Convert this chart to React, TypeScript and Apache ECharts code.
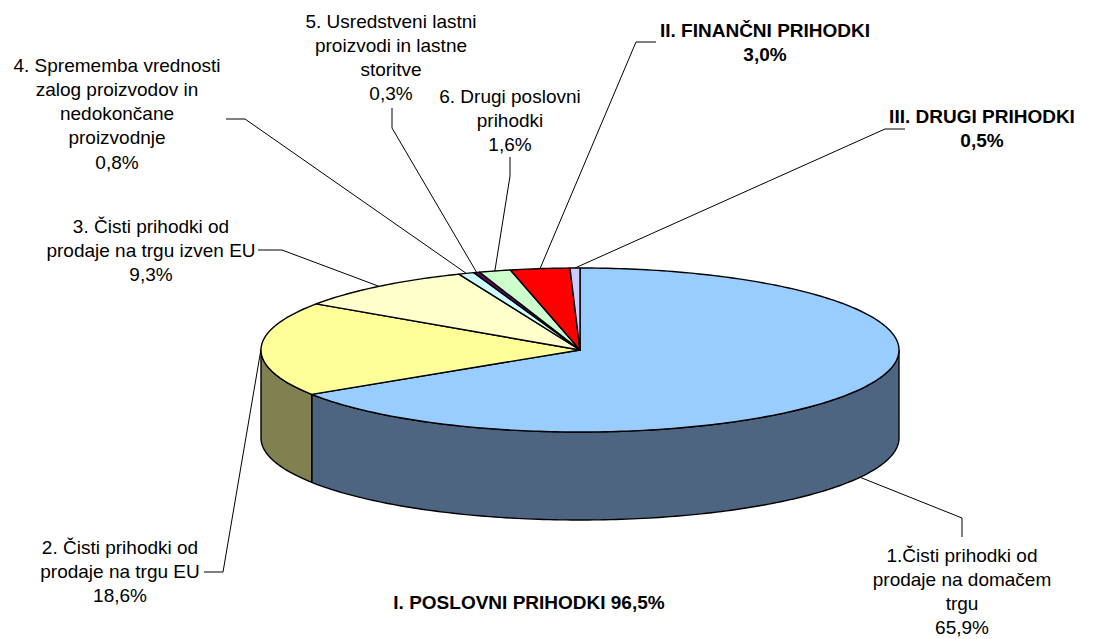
import { useEffect, useRef } from 'react';
import * as echarts from 'echarts';

// ---- data ----
const categories = [
  '1.Čisti prihodki od\nprodaje na domačem\ntrgu',
  '2. Čisti prihodki od\nprodaje na trgu EU',
  '3. Čisti prihodki od\nprodaje na trgu izven EU',
  '4. Sprememba vrednosti\nzalog proizvodov in\nnedokončane\nproizvodnje',
  '5. Usredstveni lastni\nproizvodi in lastne\nstoritve',
  '6. Drugi poslovni\nprihodki',
  'II. FINANČNI PRIHODKI',
  'III. DRUGI PRIHODKI',
];
const values = [65.9, 18.6, 9.3, 0.8, 0.3, 1.6, 3.0, 0.5];
const boldLabel = [false, false, false, false, false, false, true, true];
const groupTitle = 'I. POSLOVNI PRIHODKI';
const groupCount = 6; // first six slices belong to group I

// ---- styles / layout ----
const topColors = ['#99CCFF', '#FFFF99', '#FFFFCC', '#CCFFFF', '#660066', '#CCFFCC', '#FF0000', '#CCCCFF'];
const sideColors = ['#4D6580', '#808050', '#808066', '#668080', '#330033', '#668066', '#800000', '#666680'];
const CX = 580, CY = 350, RX = 319, RY = 82, DEPTH = 88;
const FONT_FAMILY = '"Liberation Sans", Arial, sans-serif';
const FONT_SIZE = 19;
const LINE_H = 24.3;
// label first-line centre and leader elbow points (label side first)
const labelLayout = [
  { x: 962, y: 555, leader: [[962, 537], [962, 518]] },
  { x: 120, y: 547, leader: [[204, 572], [223, 572]] },
  { x: 151, y: 226, leader: [[258, 250], [282, 250]] },
  { x: 117, y: 65, leader: [[226, 119], [245, 119]] },
  { x: 391, y: 21, leader: [[392, 108], [392, 128]] },
  { x: 510, y: 96, leader: [[510, 157], [510, 176]] },
  { x: 765, y: 30, leader: [[656, 42], [636, 42]] },
  { x: 982, y: 116, leader: [[905, 129], [885, 129]] },
];
const totalLabelPos = { x: 529, y: 602 };

const fmt = (v: number) => v.toFixed(1).replace('.', ',') + '%';
const total = values.reduce((a, b) => a + b, 0);
const starts: number[] = [];
values.reduce((acc, v, i) => { starts[i] = acc; return acc + v; }, 0);

const rad = (a: number) => (a * Math.PI) / 180;
const ellPt = (a: number, dy = 0) => [CX + RX * Math.cos(rad(a)), CY - RY * Math.sin(rad(a)) + dy];
const arcPts = (from: number, to: number, dy: number) => {
  const n = Math.max(2, Math.ceil(Math.abs(from - to)));
  const pts: number[][] = [];
  for (let i = 0; i <= n; i++) pts.push(ellPt(from + ((to - from) * i) / n, dy));
  return pts;
};

export default function App() {
  const ref = useRef<HTMLDivElement>(null);
  useEffect(() => {
    if (!ref.current) return;
    const chart = echarts.init(ref.current, undefined, { renderer: 'svg' });

    const graphics: any[] = [];
    values.forEach((v, i) => {
      const mid = 90 - (360 * (starts[i] + v / 2)) / total;
      const front = Math.sin(rad(mid)) < 0;
      const anchor = ellPt(mid, front ? DEPTH : 0);
      const lay = labelLayout[i];
      graphics.push({
        type: 'polyline',
        shape: { points: [...lay.leader, anchor] },
        style: { stroke: '#000', lineWidth: 1, fill: null },
        silent: true,
      });
      const lines = categories[i].split('\n').concat([fmt(v)]);
      lines.forEach((t, k) => {
        graphics.push({
          type: 'text',
          x: lay.x,
          y: lay.y + k * LINE_H,
          style: {
            text: t,
            fill: '#000',
            font: `${boldLabel[i] ? 'bold ' : ''}${FONT_SIZE}px ${FONT_FAMILY}`,
            textAlign: 'center',
            textVerticalAlign: 'middle',
          },
          silent: true,
        });
      });
    });
    const groupSum = values.slice(0, groupCount).reduce((a, b) => a + b, 0);
    graphics.push({
      type: 'text',
      x: totalLabelPos.x,
      y: totalLabelPos.y,
      style: {
        text: `${groupTitle} ${fmt(groupSum)}`,
        fill: '#000',
        font: `bold ${FONT_SIZE}px ${FONT_FAMILY}`,
        textAlign: 'center',
        textVerticalAlign: 'middle',
      },
      silent: true,
    });

    chart.setOption({
      animation: false,
      backgroundColor: '#fff',
      series: [
        {
          type: 'custom',
          coordinateSystem: 'none',
          silent: true,
          data: values.map((v, i) => [v, starts[i], total]),
          renderItem: (params: any, api: any) => {
            const i = params.dataIndex;
            const v = api.value(0);
            const s = api.value(1);
            const tot = api.value(2);
            const a0 = 90 - (360 * s) / tot;
            const a1 = 90 - (360 * (s + v)) / tot;
            const children: any[] = [];
            const f0 = Math.min(a0, 0);
            const f1 = Math.max(a1, -180);
            if (f0 > f1) {
              const topEdge = arcPts(f0, f1, 0);
              const botEdge = arcPts(f1, f0, DEPTH);
              children.push({
                type: 'polygon',
                shape: { points: topEdge.concat(botEdge) },
                style: { fill: sideColors[i], stroke: '#000', lineWidth: 1.4, lineJoin: 'round' },
              });
            }
            children.push({
              type: 'polygon',
              shape: { points: [[CX, CY], ...arcPts(a0, a1, 0)] },
              style: { fill: topColors[i], stroke: '#000', lineWidth: 1.4, lineJoin: 'round' },
            });
            return { type: 'group', children };
          },
        },
      ],
      graphic: { elements: graphics },
    });
    return () => chart.dispose();
  }, []);
  return (
    <div
      ref={ref}
      style={{ position: 'fixed', left: 0, top: 0, width: 1096, height: 639, background: '#fff' }}
    />
  );
}
